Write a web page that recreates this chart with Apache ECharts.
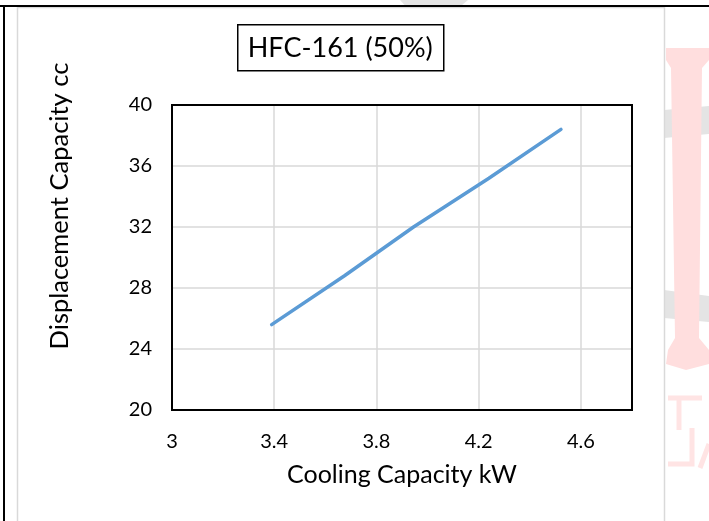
<!DOCTYPE html>
<html>
<head>
<meta charset="utf-8">
<script src="https://cdn.jsdelivr.net/npm/echarts@6/dist/echarts.min.js"></script>
<style>
  html, body { margin: 0; padding: 0; background: #fff; }
  #chart { width: 709px; height: 521px; }
</style>
</head>
<body>
<div id="chart"></div>
<script>
// Cooling capacity (kW) against compressor displacement (cc) for HFC-161 (50%)
const coolingCapacity = [3.39, 3.675, 3.945, 4.24, 4.522];
const displacement = [25.6, 28.8, 32.0, 35.2, 38.4];
const xTicks = [3, 3.4, 3.8, 4.2, 4.6];
const yTicks = [20, 24, 28, 32, 36, 40];

const FONT = 'Lato, "Open Sans", sans-serif';
const chart = echarts.init(document.getElementById('chart'), null, { renderer: 'canvas' });

const points = coolingCapacity.map((x, i) => [x, displacement[i]]);

chart.setOption({
  backgroundColor: '#ffffff',
  animation: false,
  graphic: [
    // page decoration behind the figure
    { type: 'polygon', z: -10, shape: { points: [[400, 0], [468, 0], [455, 11], [410, 11]] }, style: { fill: '#e4e4e4' } },
    { type: 'polygon', z: -10, shape: { points: [[664, 110], [709, 106], [709, 134], [664, 138]] }, style: { fill: '#e4e4e4' } },
    { type: 'polygon', z: -10, shape: { points: [[664, 290], [709, 296], [709, 322], [664, 318]] }, style: { fill: '#e4e4e4' } },
    { type: 'polygon', z: -9, shape: { points: [[666, 48], [709, 48], [709, 60], [702, 68], [699, 338], [709, 350], [709, 364], [686, 370], [666, 364], [668, 350], [675, 338], [671, 68], [666, 60]] }, style: { fill: '#ffdede' } },
    { type: 'polyline', z: -9, shape: { points: [[668, 398], [702, 398]] }, style: { stroke: '#ffe4e4', lineWidth: 5, fill: null } },
    { type: 'polyline', z: -9, shape: { points: [[679, 398], [679, 430]] }, style: { stroke: '#ffe4e4', lineWidth: 5, fill: null } },
    { type: 'polyline', z: -9, shape: { points: [[668, 464], [692, 464], [692, 428]] }, style: { stroke: '#ffe4e4', lineWidth: 5, fill: null } },
    { type: 'polyline', z: -9, shape: { points: [[700, 468], [709, 444]] }, style: { stroke: '#ffe4e4', lineWidth: 5, fill: null } },
    // chart frame
    { type: 'rect', z: -5, shape: { x: 17.5, y: 7.5, width: 647, height: 520 }, style: { fill: '#ffffff', stroke: '#d9d9d9', lineWidth: 1.5 } },
    // document rules
    { type: 'line', z: 10, shape: { x1: 0, y1: 6, x2: 709, y2: 6 }, style: { stroke: '#000', lineWidth: 2 } },
    { type: 'line', z: 10, shape: { x1: 4, y1: 6, x2: 4, y2: 521 }, style: { stroke: '#000', lineWidth: 2 } },
    // plot area outline
    { type: 'rect', z: 20, shape: { x: 172, y: 105, width: 460, height: 305 }, style: { fill: null, stroke: '#000', lineWidth: 2 } },
    // vertical axis title
    { type: 'text', z: 10, x: 60, y: 206, rotation: Math.PI / 2,
      style: { text: 'Displacement Capacity cc', font: '25.5px ' + FONT, fill: '#000', align: 'center', verticalAlign: 'middle' } },
    // title box
    {
      type: 'group', left: 237, top: 24, z: 10,
      children: [
        { type: 'rect', shape: { x: 0.5, y: 0.5, width: 206, height: 46 }, style: { fill: '#fff', stroke: '#000', lineWidth: 1.5 } },
        { type: 'text', x: 103, y: 24, style: { text: 'HFC-161 (50%)', font: '27px ' + FONT, fill: '#000', align: 'center', verticalAlign: 'middle' } }
      ]
    }
  ],
  grid: { left: 172, right: 77, top: 105, bottom: 111, show: false },
  xAxis: {
    type: 'value',
    min: 3, max: 4.8, interval: 0.4,
    name: 'Cooling Capacity kW',
    nameLocation: 'middle', nameGap: 52,
    nameTextStyle: { fontFamily: FONT, fontSize: 25, color: '#000' },
    axisLine: { show: false },
    axisTick: { show: false },
    axisLabel: {
      fontFamily: FONT, fontSize: 20, color: '#000', margin: 22,
      showMaxLabel: false,
      formatter: v => (xTicks.some(t => Math.abs(t - v) < 1e-6) ? String(+v.toFixed(1)) : '')
    },
    splitLine: { show: true, lineStyle: { color: '#d9d9d9', width: 1.5 } }
  },
  yAxis: {
    type: 'value',
    min: 20, max: 40, interval: 4,
    axisLine: { show: false },
    axisTick: { show: false },
    axisLabel: {
      fontFamily: FONT, fontSize: 20, color: '#000', margin: 20,
      formatter: v => (yTicks.includes(v) ? String(v) : '')
    },
    splitLine: { show: true, lineStyle: { color: '#d9d9d9', width: 1.5 } }
  },
  series: [{
    type: 'line',
    data: points,
    showSymbol: false,
    symbol: 'none',
    lineStyle: { color: '#5b9bd5', width: 3.5, cap: 'round' },
    z: 5
  }]
});
</script>
</body>
</html>
